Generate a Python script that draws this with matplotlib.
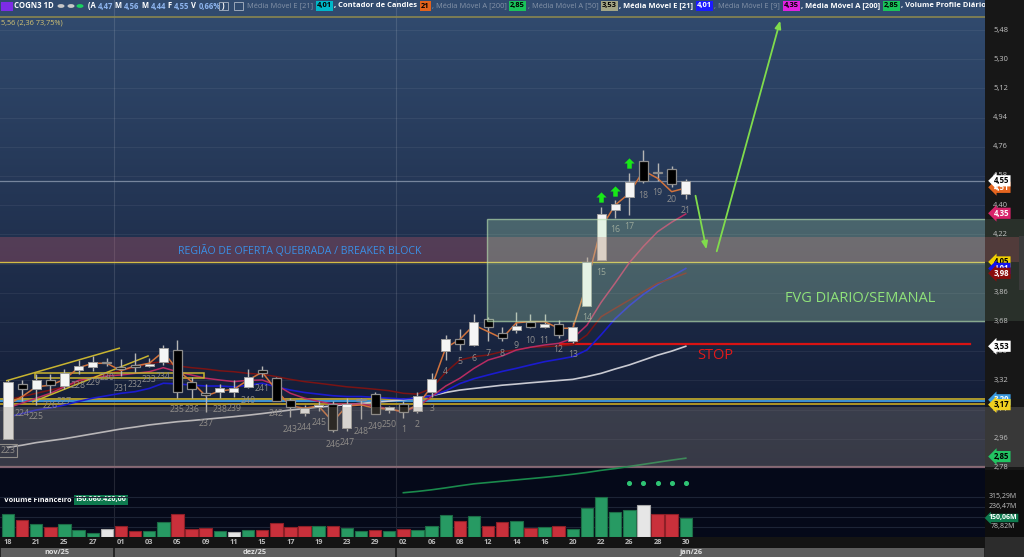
import matplotlib.pyplot as plt
import numpy as np
from matplotlib.patches import Rectangle, Circle
from matplotlib.path import Path
import matplotlib.transforms as mtransforms

plt.rcParams['font.family'] = ['Open Sans', 'DejaVu Sans']

# ---------------- data ----------------
dates = ['18', '19', '21', '24', '25', '26', '27', '28',
         '01', '02', '03', '04', '05', '08', '09', '10', '11', '12', '15', '16',
         '17', '18', '19', '22', '23', '26', '29', '30',
         '02', '05', '06', '07', '08', '09', '12', '13', '14', '15', '16', '19',
         '20', '21', '22', '23', '26', '27', '28', '29', '30']
counters = list(range(223, 251)) + list(range(1, 22))

opens = [2.96, 3.30, 3.265, 3.32, 3.285, 3.385, 3.405, 3.432, 3.40, 3.415,
         3.41, 3.435, 3.507, 3.312, 3.235, 3.248, 3.245, 3.281, 3.384, 3.333,
         3.199, 3.121, 3.154, 3.174, 3.024, 3.203, 3.236, 3.137, 3.174, 3.133,
         3.25, 3.50, 3.575, 3.538, 3.697, 3.614, 3.63, 3.68, 3.651, 3.666,
         3.563, 3.78, 4.06, 4.37, 4.452, 4.674, 4.598, 4.62, 4.47]
highs = [3.32, 3.32, 3.36, 3.36, 3.39, 3.445, 3.47, 3.46, 3.45, 3.49,
         3.46, 3.54, 3.57, 3.34, 3.30, 3.30, 3.32, 3.39, 3.41, 3.34,
         3.21, 3.17, 3.19, 3.19, 3.21, 3.21, 3.245, 3.16, 3.19, 3.25,
         3.367, 3.60, 3.635, 3.73, 3.71, 3.65, 3.74, 3.73, 3.73, 3.69,
         3.68, 4.08, 4.39, 4.43, 4.60, 4.74, 4.66, 4.64, 4.56]
lows = [2.96, 3.19, 3.17, 3.24, 3.265, 3.36, 3.38, 3.41, 3.345, 3.37,
        3.40, 3.415, 3.21, 3.21, 3.127, 3.21, 3.22, 3.27, 3.34, 3.19,
        3.092, 3.10, 3.13, 3.0, 3.01, 3.08, 3.11, 3.12, 3.09, 3.12,
        3.22, 3.445, 3.51, 3.53, 3.56, 3.56, 3.61, 3.64, 3.64, 3.58,
        3.55, 3.78, 4.06, 4.32, 4.34, 4.535, 4.55, 4.51, 4.44]
closes = [3.31, 3.265, 3.325, 3.29, 3.365, 3.41, 3.43, 3.428, 3.392, 3.405,
          3.415, 3.518, 3.25, 3.265, 3.232, 3.271, 3.271, 3.343, 3.363, 3.195,
          3.154, 3.148, 3.168, 3.014, 3.174, 3.199, 3.113, 3.154, 3.127, 3.223,
          3.326, 3.575, 3.542, 3.678, 3.651, 3.583, 3.655, 3.651, 3.668, 3.60,
          3.647, 4.048, 4.346, 4.407, 4.545, 4.551, 4.596, 4.53, 4.55]

# volume financeiro (R$ millions) and bar colour code
volume = [179, 131, 100, 76, 100, 55, 29, 61, 89, 50,
          47, 116, 184, 63, 73, 45, 37, 55, 55, 110,
          81, 89, 84, 84, 73, 50, 55, 50, 61, 55,
          89, 171, 124, 163, 89, 116, 126, 68, 81, 84,
          63, 229, 313, 197, 213, 250, 184, 179, 150]
vol_kind = "grgrgggwrrggrrrgwgrrrrgrggrgrgggrgrrgrgrgggggwrrg"

# indicator lines
mm_fast = [3.17, 3.22, 3.28, 3.29, 3.326, 3.398, 3.425, 3.425, 3.38, 3.409,
           3.425, 3.497, 3.384, 3.312, 3.224, 3.254, 3.265, 3.322, 3.37, 3.26,
           3.162, 3.148, 3.162, 3.065, 3.162, 3.168, 3.148, 3.142, 3.127, 3.168,
           3.28, 3.52, 3.573, 3.661, 3.62, 3.579, 3.675, 3.682, 3.682, 3.641,
           3.641, 3.918, 4.26, 4.401, 4.473, 4.613, 4.566, 4.483, 4.506]
mme9 = [3.15, 3.18, 3.21, 3.24, 3.28, 3.32, 3.333, 3.347, 3.353, 3.363,
        3.373, 3.398, 3.373, 3.353, 3.333, 3.322, 3.312, 3.32, 3.322, 3.291,
        3.24, 3.21, 3.19, 3.174, 3.174, 3.174, 3.162, 3.142, 3.127, 3.158,
        3.22, 3.285, 3.333, 3.394, 3.445, 3.47, 3.507, 3.524, 3.538, 3.548,
        3.579, 3.66, 3.80, 3.92, 4.045, 4.146, 4.236, 4.295, 4.346]
mm_red = [3.20, 3.22, 3.24, 3.26, 3.28, 3.31, 3.34, 3.36, 3.38, 3.40,
          3.425, 3.435, 3.409, 3.398, 3.39, 3.379, 3.373, 3.363, 3.357, 3.343,
          3.326, 3.312, 3.302, 3.291, 3.28, 3.273, 3.265, 3.256, 3.24, 3.235,
          3.27, 3.37, 3.445, 3.466, 3.476, 3.497, 3.507, 3.524, 3.527, 3.532,
          3.538, 3.60, 3.712, 3.764, 3.815, 3.867, 3.918, 3.949, 3.98]
mme21 = [3.094, 3.115, 3.137, 3.15, 3.168, 3.19, 3.21, 3.225, 3.24, 3.25,
         3.27, 3.302, 3.298, 3.291, 3.285, 3.285, 3.28, 3.29, 3.302, 3.28,
         3.26, 3.245, 3.235, 3.225, 3.22, 3.22, 3.215, 3.21, 3.205, 3.21,
         3.225, 3.255, 3.30, 3.33, 3.353, 3.375, 3.394, 3.415, 3.435, 3.45,
         3.466, 3.507, 3.60, 3.70, 3.78, 3.85, 3.91, 3.96, 4.01]
mma50 = [2.907, 2.92, 2.936, 2.948, 2.96, 2.975, 2.99, 3.005, 3.02, 3.032,
         3.045, 3.055, 3.065, 3.072, 3.08, 3.088, 3.096, 3.105, 3.115, 3.126,
         3.137, 3.146, 3.155, 3.162, 3.17, 3.178, 3.185, 3.192, 3.20, 3.212,
         3.225, 3.245, 3.26, 3.27, 3.28, 3.29, 3.297, 3.305, 3.312, 3.319,
         3.326, 3.343, 3.363, 3.39, 3.415, 3.445, 3.475, 3.50, 3.53]
mma200_start = 28
mma200 = [2.627, 2.635, 2.645, 2.657, 2.670, 2.682, 2.690, 2.698, 2.706, 2.714,
          2.722, 2.731, 2.741, 2.752, 2.765, 2.776, 2.789, 2.802, 2.815, 2.828, 2.84]

signal_up = [42, 43, 44]          # green arrows above candles 15-17
signal_dots = [44, 45, 46, 47, 48]
dot_level = 425                    # volume-panel level of the dots

stop_level = 3.544
breaker = (4.05, 4.204)
fvg = (3.686, 4.315)
gray_zone = (2.786, 3.155)

price_ticks = [5.48, 5.30, 5.12, 4.94, 4.76, 4.58, 4.40, 4.22, 4.04, 3.86,
               3.68, 3.50, 3.32, 3.14, 2.96, 2.78]
vol_ticks = [315.29, 236.47, 157.64, 78.82]
months = [('nov/25', -0.57, 7.5), ('dez/25', 7.5, 27.5), ('jan/26', 27.5, 69.19)]

# ---------------- figure / layout ----------------
W, H = 1024, 557
fig = plt.figure(figsize=(10.24, 5.57), dpi=100)
fig.patch.set_facecolor('#050919')

XLIM = (-0.567, 69.19)
YLIM = (2.354, 5.665)
VLIM = (0, 528)


def px_axes(x0, y0, x1, y1, fc='none'):
    a = fig.add_axes([x0 / W, 1 - y1 / H, (x1 - x0) / W, (y1 - y0) / H])
    a.set_facecolor(fc)
    a.set_xticks([])
    a.set_yticks([])
    for s in a.spines.values():
        s.set_visible(False)
    return a


ax = px_axes(0, 0, 985, 537)
ax.set_xlim(XLIM)
ax.set_ylim(YLIM)

# background gradient
ypix = np.arange(537) + 0.5
t = np.clip(ypix / 467.0, 0, 1)[:, None]
top_c = np.array([0x32, 0x4c, 0x70]) / 255
bot_c = np.array([0x10, 0x17, 0x2f]) / 255
bg = top_c * (1 - t) + bot_c * t
bg[ypix > 467] = np.array([5, 9, 25]) / 255
ax.imshow(bg[:, None, :], extent=[XLIM[0], XLIM[1], YLIM[0], YLIM[1]],
          aspect='auto', origin='upper', zorder=0)

# grid
for p in price_ticks[:-1]:
    ax.axhline(p, color='white', alpha=0.06, lw=0.8, zorder=1)
for _, a, b in months[1:]:
    ax.axvline(a, color='white', alpha=0.12, lw=0.8, zorder=1)

x = np.arange(len(closes))

# horizontal levels
ax.axhline(5.56, color='#8a8650', lw=1.2, zorder=2)
ax.axhline(4.55, color='#8b9ab0', lw=0.9, alpha=0.8, zorder=2)
ax.axhline(breaker[0], color='#d4bb45', lw=1.0, zorder=2)
ax.axhline(3.205, color='#c9b02a', lw=1.2, zorder=2)
ax.axhline(3.192, color='#3b8fd0', lw=1.5, zorder=2)
ax.axhline(3.172, color='#c9a822', lw=1.2, zorder=2)
ax.axhline(gray_zone[0], color='#806070', lw=1.6, zorder=2)
ax.plot([39.1, 68.1], [stop_level, stop_level], color='#d81313', lw=1.6, zorder=3)

# moving averages
ax.plot(x, mma50, color='#c9cad2', lw=1.2, zorder=3)
ax.plot(x, mme21, color='#1b1bd0', lw=1.2, zorder=3)
ax.plot(x, mm_red, color='#7a1414', lw=1.1, zorder=3)
ax.plot(x, mme9, color='#b82c62', lw=1.1, zorder=3)
ax.plot(x, mm_fast, color='#d2733c', lw=1.1, zorder=3.6)
ax.plot(x[mma200_start:], mma200, color='#1a8a4c', lw=1.2, zorder=3)

# yellow channel drawing
ax.plot([-0.09, 7.88], [3.318, 3.518], color='#c8b430', lw=1.1, zorder=3)
ax.plot([1.77, 9.92], [3.188, 3.47], color='#c8b430', lw=1.1, zorder=3)
ax.add_patch(Rectangle((1.91, 3.333), 11.97, 0.03, fc='none', ec='#c8b430', lw=1.1, zorder=3))

# candles
o = np.array(opens)
c = np.array(closes)
up = c >= o
bottom = np.minimum(o, c)
height = np.maximum(np.abs(c - o), 0.008)
ax.vlines(x, lows, highs, color='#b5b5b5', lw=1.0, zorder=3.5)
ax.bar(x[up], height[up], bottom=bottom[up], width=0.64, color='#f5f5f5',
       edgecolor='#a0a0a0', lw=0.7, zorder=4)
ax.bar(x[~up], height[~up], bottom=bottom[~up], width=0.64, color='#000000',
       edgecolor='#8c8c8c', lw=0.9, zorder=4)

# candle counter
for i, n in enumerate(counters):
    kw = {}
    if n == 223:
        kw['bbox'] = dict(boxstyle='square,pad=0.2', fc='none', ec='#8d8d8d', lw=0.8)
    ax.annotate(str(n), (i, lows[i]), xytext=(0, -8.5), textcoords='offset points',
                ha='center', va='center', fontsize=6.3, color='#8e8e8e', zorder=5, **kw)

# green signal arrows
arrow = Path([(-0.22, -0.5), (0.22, -0.5), (0.22, 0.0), (0.5, 0.0), (0.0, 0.5),
              (-0.5, 0.0), (-0.22, 0.0), (-0.22, -0.5)],
             [Path.MOVETO] + [Path.LINETO] * 6 + [Path.CLOSEPOLY])
tr = mtransforms.offset_copy(ax.transData, fig=fig, y=7, units='points')
ax.scatter(x[signal_up], np.array(highs)[signal_up], marker=arrow, s=55,
           color='#18e818', transform=tr, zorder=6, linewidths=0)

# zones (drawn over candles, translucent)
ax.add_patch(Rectangle((XLIM[0], gray_zone[0]), XLIM[1] - XLIM[0], gray_zone[1] - gray_zone[0],
                       fc=(0.58, 0.54, 0.49, 0.30), ec='none', zorder=5.5))
ax.add_patch(Rectangle((XLIM[0], breaker[0]), XLIM[1] - XLIM[0], breaker[1] - breaker[0],
                       fc=(0.80, 0.36, 0.42, 0.30), ec='none', zorder=5.5))
ax.add_patch(Rectangle((33.92, fvg[0]), XLIM[1] - 33.92 + 1, fvg[1] - fvg[0],
                       fc=(0.72, 0.92, 0.72, 0.27), ec=(0.72, 0.88, 0.69, 0.65), lw=1.0, zorder=5.6))

# texts on chart
ax.text(12.04, 4.117, 'REGIÃO DE OFERTA QUEBRADA / BREAKER BLOCK', color='#3a90e6',
        fontsize=7.6, va='center', ha='left', zorder=7)
ax.text(55.03, 3.822, 'FVG DIARIO/SEMANAL', color='#8fe27a', fontsize=10.5,
        va='center', ha='left', zorder=7)
ax.text(48.8, 3.47, 'STOP', color='#e01a1a', fontsize=10.5, va='center', ha='left', zorder=7)

# projected path arrows
for (x0, y0), (x1, y1) in [((48.65, 4.475), (49.5, 4.111)), ((50.14, 4.099), (54.74, 5.554))]:
    ax.annotate('', xy=(x1, y1), xytext=(x0, y0),
                arrowprops=dict(arrowstyle='-|>,head_length=0.45,head_width=0.18',
                                color='#80dc4c', lw=1.3), zorder=7)

# ---------------- volume panel ----------------
axv = px_axes(0, 470, 985, 537)
axv.set_xlim(XLIM)
axv.set_ylim(VLIM)
for v in vol_ticks:
    axv.axhline(v, color='#1d2436', lw=0.8, zorder=1)
face = {'g': '#279a63', 'r': '#c9303b', 'w': '#e6e6e6'}
edge = {'g': '#1c6b45', 'r': '#8d1f27', 'w': '#a8a8a8'}
axv.bar(x, volume, width=0.88, color=[face[k] for k in vol_kind],
        edgecolor=[edge[k] for k in vol_kind], lw=0.8, zorder=2)
axv.scatter(signal_dots, [dot_level] * len(signal_dots), s=7, color='#2fc474', zorder=3)

# ---------------- right price axis ----------------
axr = px_axes(985, 0, 1024, 537, fc='#171717')
axr.set_xlim(0, 1)
axr.set_ylim(YLIM)
axr.add_patch(Rectangle((0, gray_zone[0]), 1, gray_zone[1] - gray_zone[0], fc='#383838', ec='none'))
axr.add_patch(Rectangle((0, fvg[0]), 1, fvg[1] - fvg[0], fc=(0.69, 0.91, 0.72, 0.12), ec='none'))
axr.add_patch(Rectangle((0, breaker[0]), 1, breaker[1] - breaker[0], fc=(0.80, 0.36, 0.42, 0.25), ec='none'))
axr.add_patch(Rectangle((0, YLIM[0]), 1, gray_zone[0] - YLIM[0] - 0.018, fc='#0e0e0e', ec='none'))
axr.add_patch(Rectangle((0.86, 3.88), 0.14, 0.33, fc='#3a3a3a', ec='none'))
for p in price_ticks:
    axr.text(0.40, p, f'{p:.2f}'.replace('.', ','), color='#c4c4c4', fontsize=5.4,
             ha='center', va='center')

tags = [(4.51, '4,51', '#e5651f', 'white'), (4.55, '4,55', '#ffffff', 'black'),
        (4.35, '4,35', '#d8236a', 'white'), (4.05, '4,05', '#f0d000', 'black'),
        (4.01, '4,01', '#1313ee', 'white'), (3.98, '3,98', '#8b0c0c', 'white'),
        (3.53, '3,53', '#ffffff', 'black'), (3.20, '3,20', '#3a9ae0', 'white'),
        (3.17, '3,17', '#f0d020', 'black'), (2.85, '2,85', '#22c462', 'black')]
ytr = axr.get_yaxis_transform()
for p, s, fcol, tcol in tags:
    axr.text(0.43, p, s, color=tcol, fontsize=5.6, fontweight='bold', ha='center',
             va='center', transform=ytr, zorder=5,
             bbox=dict(boxstyle='larrow,pad=0.14', fc=fcol, ec='none'))

axvr = px_axes(985, 470, 1024, 537)
axvr.set_xlim(0, 1)
axvr.set_ylim(VLIM)
for v in [315.29, 236.47, 78.82]:
    axvr.text(0.45, v, f'{v:.2f}'.replace('.', ',') + 'M', color='#c4c4c4', fontsize=5.0,
              ha='center', va='center')
axvr.text(0.47, volume[-1], '150,06M', color='white', fontsize=5.0, fontweight='bold',
          ha='center', va='center', zorder=5,
          bbox=dict(boxstyle='larrow,pad=0.1', fc='#0e7a4e', ec='none'))

# ---------------- date strip ----------------
axd = px_axes(0, 537, 985, 548, fc='#141414')
axd.set_xlim(XLIM)
axd.set_ylim(0, 1)
for i in range(0, len(dates), 2):
    axd.text(i, 0.5, dates[i], color='#b8b8b8', fontsize=5.3, fontweight='bold',
             ha='center', va='center')
axm = px_axes(0, 548, 985, 557, fc='#262626')
axm.set_xlim(XLIM)
axm.set_ylim(0, 1)
for name, a, b in months:
    axm.add_patch(Rectangle((a + 0.06, 0), b - a - 0.12, 1, fc='#5e5e5e', ec='none'))
    axm.text((a + b) / 2, 0.45, name, color='#dedede', fontsize=5.3, fontweight='bold',
             ha='center', va='center')
px_axes(985, 537, 1024, 557, fc='#2c2c2c')

# ---------------- header and panel labels (clipped to the chart area) ----------------
renderer = fig.canvas.get_renderer()


def run_text(x0, ypx, pieces, size=5.6):
    xx = x0
    for txt, col, bold, box in pieces:
        kw = dict(color=col, fontsize=size, fontweight='bold' if bold else 'normal',
                  va='center', ha='left', transform=fig.transFigure, clip_on=True, zorder=8)
        if box:
            xx += 1.5
            kw['bbox'] = dict(boxstyle='square,pad=0.15', fc=box, ec='none')
        tt = ax.text(xx / W, 1 - ypx / H, txt, **kw)
        xx += tt.get_window_extent(renderer).width + (2.5 if box else 0)
    return xx


HY = 1 - 6 / H
fig.patches.append(Rectangle((1 / W, 1 - 11 / H), 12 / W, 9 / H, fc='#7c2ce6', ec='none',
                             transform=fig.transFigure, figure=fig))
run_text(14, 6, [('COGN3 1D', 'white', True, None)], 5.6)
for cx, col in [(61, '#c8c8c8'), (71, '#c8c8c8'), (80, '#19d160')]:
    fig.patches.append(Circle((cx / W, HY), 3.5 / W, fc=col, ec='none',
                              transform=fig.transFigure, figure=fig))
blue = '#8fb6f0'
run_text(88, 6, [('(A ', 'white', True, None), ('4,47', blue, True, None),
                 (' M ', 'white', True, None), ('4,56', blue, True, None),
                 (' M ', 'white', True, None), ('4,44', blue, True, None),
                 (' F ', 'white', True, None), ('4,55', blue, True, None),
                 (' V ', 'white', True, None), ('0,66%', blue, True, None),
                 (' )', 'white', True, None)], 5.5)
for bx in [219, 234]:
    fig.patches.append(Rectangle((bx / W, 1 - 10 / H), 9 / W, 8 / H, fc='none', ec='#9aa6b8',
                                 lw=0.7, transform=fig.transFigure, figure=fig))
grey = '#8593a8'
run_text(247, 6, [('Média Móvel E [21] ', grey, False, None), ('4,01', 'black', True, '#00b7c9'),
                  (', Contador de Candles ', 'white', True, None), ('21', 'black', True, '#e2621c'),
                  (', Média Móvel A [200] ', grey, False, None), ('2,85', 'black', True, '#19c35a'),
                  (', Média Móvel A [50] ', grey, False, None), ('3,53', 'black', True, '#a3a585'),
                  (', Média Móvel E [21] ', 'white', True, None), ('4,01', 'white', True, '#1a1aff'),
                  (', Média Móvel E [9] ', grey, False, None), ('4,35', 'black', True, '#e021e0'),
                  (', Média Móvel A [200] ', 'white', True, None), ('2,85', 'black', True, '#19c35a'),
                  (', Volume Profile Diário', 'white', True, None)], 5.4)
ax.text(1 / W, 1 - 23 / H, '5,56 (2,36 73,75%)', color='#d4c474', fontsize=5.3,
        va='center', ha='left', transform=fig.transFigure, zorder=8)
run_text(4, 500, [('Volume Financeiro ', 'white', True, None),
                  ('150.060.420,00', 'white', True, '#0e7a4e')], 5.2)

fig.savefig('out.png', dpi=100, facecolor=fig.get_facecolor())
